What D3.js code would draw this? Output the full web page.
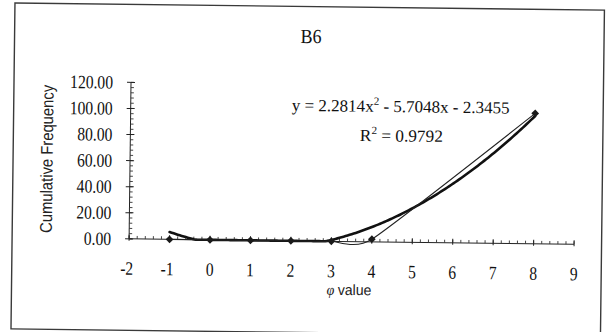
<!DOCTYPE html>
<html>
<head>
<meta charset="utf-8">
<script src="https://cdn.jsdelivr.net/npm/d3@7"></script>
<style>
  html, body { margin: 0; padding: 0; background: #fff; }
  svg { display: block; }
</style>
</head>
<body>
<script>
// Grain-size sample B6: cumulative frequency against phi value
const phiValues = [-1, 0, 1, 2, 3, 4, 8];
const cumFreq   = [0, 0, 0, 0, 0, 2, 100];

// Quadratic trendline y = a x^2 + b x + c and its fit statistic
const trendCoef = [2.2814, -5.7048, -2.3455];
const rSquared  = 0.9792;

const xTickValues = [-2, -1, 0, 1, 2, 3, 4, 5, 6, 7, 8, 9];
const yTickValues = [0, 20, 40, 60, 80, 100, 120];

const chartTitle = "B6";
const xTitle = "value";
const xTitleSymbol = "\u03C6";
const yTitle = "Cumulative Frequency";

const W = 611, H = 332;
const serif = "'Liberation Serif', 'Times New Roman', serif";
const sans  = "'Liberation Sans', Arial, sans-serif";

const svg = d3.select("body").append("svg")
  .attr("width", W).attr("height", H);

// the whole sheet sits slightly tilted
const g = svg.append("g").attr("transform", "rotate(0.7, 305.5, 166)");

// outer chart-area frame
g.append("rect")
  .attr("x", 13).attr("y", 6.5)
  .attr("width", 589.5).attr("height", 326)
  .attr("fill", "none").attr("stroke", "#3a3a3a").attr("stroke-width", 1.4);

const x = d3.scaleLinear().domain([-2, 9]).range([130, 575]);
const y = d3.scaleLinear().domain([0, 120]).range([241, 84.5]);

// squeeze a text element horizontally to a given width about an anchor x
function fit(sel, width, ax) {
  const w = sel.node().getBBox().width;
  const k = width / w;
  sel.attr("transform", `translate(${ax},0) scale(${k},1) translate(${-ax},0)`);
  return sel;
}

// ---- y axis ----
const yAxis = g.append("g");
yAxis.append("line")
  .attr("x1", x(-2)).attr("x2", x(-2))
  .attr("y1", y(0)).attr("y2", y(120))
  .attr("stroke", "#222").attr("stroke-width", 1);
const yMinor = d3.range(0, 120.001, 4);
yAxis.selectAll("line.ymin").data(yMinor).join("line")
  .attr("class", "ymin")
  .attr("x1", x(-2)).attr("x2", x(-2) + 3)
  .attr("y1", d => y(d)).attr("y2", d => y(d))
  .attr("stroke", "#333").attr("stroke-width", 0.9);
yAxis.selectAll("line.ymaj").data(yTickValues).join("line")
  .attr("class", "ymaj")
  .attr("x1", x(-2) - 4).attr("x2", x(-2) + 4)
  .attr("y1", d => y(d)).attr("y2", d => y(d))
  .attr("stroke", "#222").attr("stroke-width", 1);
yAxis.selectAll("text").data(yTickValues).join("text")
  .attr("x", 112).attr("y", d => y(d))
  .attr("dy", "0.34em")
  .attr("text-anchor", "end")
  .attr("font-family", serif).attr("font-size", 19).attr("fill", "#111")
  .text(d => d3.format(".2f")(d))
  .each(function (d) {
    const s = d3.select(this);
    const w = s.node().getBBox().width;
    fit(s, w * 0.82, 112);
  });

// ---- x axis (drawn at y = 0) ----
const xAxis = g.append("g");
xAxis.append("line")
  .attr("x1", x(-2)).attr("x2", x(9))
  .attr("y1", y(0)).attr("y2", y(0))
  .attr("stroke", "#222").attr("stroke-width", 1);
const xMinor = d3.range(-2, 9.001, 0.2);
xAxis.selectAll("line.xmin").data(xMinor).join("line")
  .attr("class", "xmin")
  .attr("x1", d => x(d)).attr("x2", d => x(d))
  .attr("y1", y(0)).attr("y2", y(0) - 3)
  .attr("stroke", "#333").attr("stroke-width", 0.9);
xAxis.selectAll("line.xmaj").data(xTickValues).join("line")
  .attr("class", "xmaj")
  .attr("x1", d => x(d)).attr("x2", d => x(d))
  .attr("y1", y(0) + 2).attr("y2", y(0) - 4)
  .attr("stroke", "#222").attr("stroke-width", 1);
xAxis.selectAll("text").data(xTickValues).join("text")
  .attr("x", d => x(d) - (d < 0 ? 2 : 0)).attr("y", 277)
  .attr("text-anchor", "middle")
  .attr("font-family", serif).attr("font-size", 19).attr("fill", "#111")
  .text(d => d)
  .each(function (d) {
    const s = d3.select(this);
    const w = s.node().getBBox().width;
    fit(s, w * 0.82, +s.attr("x"));
  });

// ---- trendline from the fitted equation, held at the axis floor ----
const poly = t => trendCoef[0] * t * t + trendCoef[1] * t + trendCoef[2];
const trendPts = d3.range(-1, 8.0001, 0.05).map(t => [t, Math.max(0, poly(t))]);
g.append("path")
  .datum(trendPts)
  .attr("fill", "none").attr("stroke", "#111").attr("stroke-width", 2.6)
  .attr("stroke-linejoin", "round").attr("stroke-linecap", "round")
  .attr("d", d3.line().x(d => x(d[0])).y(d => y(d[1])));

// ---- data series: smoothed line with diamond markers ----
const pts = phiValues.map((p, i) => [p, cumFreq[i]]);
g.append("path")
  .datum(pts)
  .attr("fill", "none").attr("stroke", "#222").attr("stroke-width", 1.1)
  .attr("d", d3.line().x(d => x(d[0])).y(d => y(d[1]))
    .curve(d3.curveCardinal.tension(0.5)));

g.selectAll("path.mk").data(pts).join("path")
  .attr("class", "mk")
  .attr("d", d3.symbol(d3.symbolSquare, 30))
  .attr("transform", d => `translate(${x(d[0])},${y(d[1])}) rotate(45)`)
  .attr("fill", "#1a1a1a");

// ---- titles ----
const tt = g.append("text")
  .attr("x", 309.5).attr("y", 43)
  .attr("text-anchor", "middle")
  .attr("font-family", serif).attr("font-size", 20).attr("fill", "#111")
  .text(chartTitle);
fit(tt, 21, 309.5);

const yt = g.append("text")
  .attr("transform", "translate(52.6,162) rotate(-90)")
  .attr("text-anchor", "middle")
  .attr("font-family", sans).attr("font-size", 17).attr("fill", "#222")
  .attr("textLength", 148).attr("lengthAdjust", "spacingAndGlyphs")
  .text(yTitle);

const xt = g.append("text")
  .attr("x", 350.5).attr("y", 294.5)
  .attr("text-anchor", "middle")
  .attr("font-family", sans).attr("font-size", 15).attr("fill", "#222");
xt.append("tspan").attr("font-family", serif).attr("font-style", "italic")
  .attr("font-size", 15).text(xTitleSymbol + " ");
xt.append("tspan").text(xTitle);
fit(xt, 45, 350.5);

// ---- trendline equation and R² ----
const fmt = d3.format(".4f");
const eq = g.append("text")
  .attr("x", 400).attr("y", 111)
  .attr("text-anchor", "middle")
  .attr("font-family", serif).attr("font-size", 17).attr("fill", "#111");
eq.append("tspan").text(`y = ${fmt(trendCoef[0])}x`);
eq.append("tspan").attr("dy", -7).attr("font-size", 11).text("2");
eq.append("tspan").attr("dy", 7)
  .text(` - ${fmt(-trendCoef[1])}x - ${fmt(-trendCoef[2])}`);
fit(eq, 218, 400);

const r2 = g.append("text")
  .attr("x", 401).attr("y", 140.3)
  .attr("text-anchor", "middle")
  .attr("font-family", serif).attr("font-size", 17).attr("fill", "#111");
r2.append("tspan").text("R");
r2.append("tspan").attr("dy", -7).attr("font-size", 11).text("2");
r2.append("tspan").attr("dy", 7).text(` = ${rSquared}`);
fit(r2, 83, 401);
</script>
</body>
</html>
